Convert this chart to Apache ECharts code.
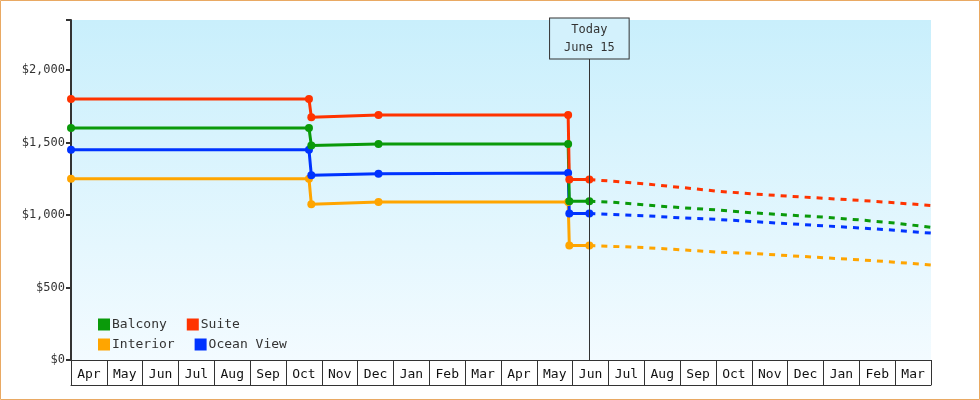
<!DOCTYPE html>
<html><head><meta charset="utf-8">
<script src="https://cdn.jsdelivr.net/npm/echarts@6/dist/echarts.min.js"></script>
<style>html,body{margin:0;padding:0;background:#fff}#c{width:980px;height:400px}</style>
</head><body><div id="c"></div>
<script>
const months = ['Apr','May','Jun','Jul','Aug','Sep','Oct','Nov','Dec','Jan','Feb','Mar','Apr','May','Jun','Jul','Aug','Sep','Oct','Nov','Dec','Jan','Feb','Mar'];
const yTicks = [0,500,1000,1500,2000];
const histDates = ['2024-04-01','2024-10-20','2024-10-22','2024-12-18','2025-05-28','2025-05-29','2025-06-15'];
const suiteHist    = [1800,1800,1675,1690,1690,1245,1245];
const balconyHist  = [1600,1600,1480,1490,1490,1095,1095];
const oceanHist    = [1450,1450,1275,1285,1290,1010,1010];
const interiorHist = [1250,1250,1075,1090,1090,790,790];
const fcDates = ['2025-06-15','2025-07-01','2025-08-01','2025-09-01','2025-10-01','2025-11-01','2025-12-01','2026-01-01','2026-02-01','2026-03-01','2026-04-01'];
const suiteFc    = [1245,1235,1215,1190,1165,1145,1130,1115,1100,1085,1065];
const balconyFc  = [1095,1090,1070,1050,1035,1015,1000,985,965,945,915];
const oceanFc    = [1010,1005,995,980,970,955,940,925,910,895,875];
const interiorFc = [790,785,775,760,745,735,720,705,690,675,655];
const today = '2025-06-15';

const colors = {Balcony:'#0a9a0a', Suite:'#ff3300', Interior:'#ffa500', 'Ocean View':'#0033ff'};
const font = '"DejaVu Sans Mono", monospace';
const zip = (d,v)=>d.map((x,i)=>[x,v[i]]);
function hist(name, vals){ return {name, type:'line', data:zip(histDates,vals), symbol:'circle', symbolSize:8,
  itemStyle:{color:colors[name]}, lineStyle:{width:3,color:colors[name]}, z:3}; }
function fc(name, vals){ return {name, type:'line', data:zip(fcDates,vals), symbol:'none',
  lineStyle:{width:3,type:[6,6],color:colors[name]}, itemStyle:{color:colors[name]}, z:2}; }

const series = [
  hist('Interior',interiorHist), hist('Ocean View',oceanHist), hist('Balcony',balconyHist), hist('Suite',suiteHist),
  fc('Interior',interiorFc), fc('Ocean View',oceanFc), fc('Balcony',balconyFc), fc('Suite',suiteFc)
];
series[0].markLine = {symbol:'none', silent:true, animation:false,
  lineStyle:{color:'#333',width:1,type:'solid'},
  label:{show:true, position:'end', formatter:'Today\nJune 15', fontFamily:font, fontSize:12, color:'#333',
    lineHeight:18, backgroundColor:'#d3f1fc', borderColor:'#333', borderWidth:1, padding:[2,14,2,14], distance:0},
  data:[[{coord:[today,0]},{coord:[today,2080]}]]};

const legendCommon = {left:93, itemWidth:12, itemHeight:12, icon:'rect', itemGap:20, selectedMode:false,
  textStyle:{fontFamily:font, fontSize:13, color:'#333', width:68, padding:[0,0,0,-3]}};

const chart = echarts.init(document.getElementById('c'));
chart.setOption({
  animation:false,
  grid:{left:71, right:49, top:20, bottom:40, show:true, borderWidth:0,
    backgroundColor:new echarts.graphic.LinearGradient(0,0,0,1,[{offset:0,color:'#c9effc'},{offset:1,color:'#f3fbff'}])},
  legend:[
    Object.assign({}, legendCommon, {top:313, data:['Balcony','Suite']}),
    Object.assign({}, legendCommon, {top:333, data:['Interior','Ocean View']})
  ],
  xAxis:[
    {type:'time', min:'2024-04-01', max:'2026-04-01', show:false},
    {type:'category', data:months, position:'bottom', boundaryGap:true,
      axisLine:{lineStyle:{color:'#333',width:1}}, axisTick:{show:true, length:25, lineStyle:{color:'#333'}},
      axisLabel:{fontFamily:font, fontSize:13, color:'#111', margin:8}},
    {type:'category', data:months, position:'bottom', offset:25,
      axisLine:{lineStyle:{color:'#333',width:1}}, axisTick:{show:false}, axisLabel:{show:false}}
  ],
  yAxis:{type:'value', min:0, max:2345, interval:500,
    axisLine:{show:true, lineStyle:{color:'#333',width:2}}, axisTick:{show:true,length:5,lineStyle:{color:'#333',width:2}},
    splitLine:{show:false},
    axisLabel:{fontFamily:font, fontSize:12, color:'#333', margin:6,
      formatter:v=> yTicks.includes(v) ? '$'+v.toLocaleString('en-US') : ''}},
  series: series,
  graphic:[{type:'rect', shape:{x:0.5,y:0.5,width:979,height:399}, style:{fill:'none',stroke:'#e9a963',lineWidth:1}, silent:true}]
});
</script></body></html>
